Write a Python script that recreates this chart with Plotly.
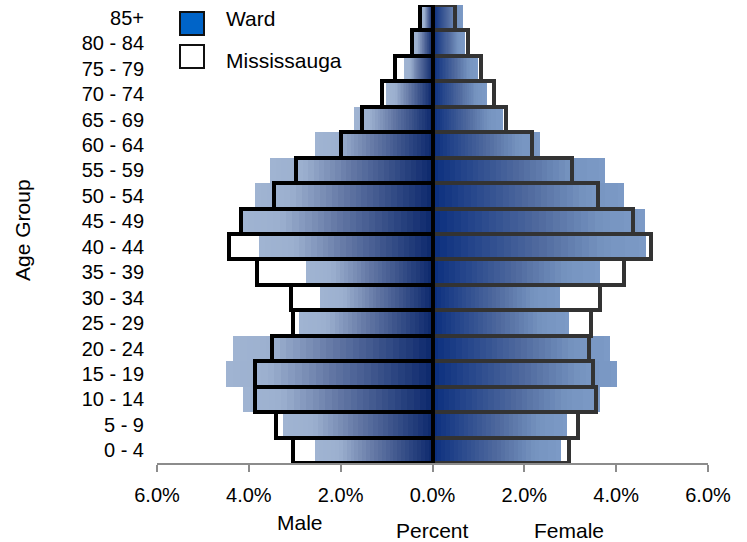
import plotly.graph_objects as go

age_groups = ["0 - 4", "5 - 9", "10 - 14", "15 - 19", "20 - 24", "25 - 29", "30 - 34",
              "35 - 39", "40 - 44", "45 - 49", "50 - 54", "55 - 59", "60 - 64",
              "65 - 69", "70 - 74", "75 - 79", "80 - 84", "85+"]
ward_male = [2.55, 3.25, 4.12, 4.49, 4.34, 2.91, 2.44, 2.75, 3.78, 4.16, 3.87, 3.53,
             2.55, 1.71, 1.02, 0.62, 0.42, 0.22]
miss_male = [3.04, 3.40, 3.86, 3.86, 3.49, 3.04, 3.09, 3.82, 4.44, 4.18, 3.46, 2.98,
             2.00, 1.53, 1.10, 0.81, 0.44, 0.27]
ward_female = [2.79, 2.93, 3.65, 4.02, 3.86, 2.98, 2.77, 3.65, 4.66, 4.63, 4.17, 3.75,
               2.35, 1.54, 1.19, 0.99, 0.70, 0.66]
miss_female = [2.98, 3.17, 3.55, 3.49, 3.41, 3.46, 3.65, 4.17, 4.75, 4.37, 3.60, 3.04,
               2.16, 1.61, 1.35, 1.05, 0.78, 0.50]
tick_vals = [-6, -4, -2, 0, 2, 4, 6]
tick_labels = ["6.0%", "4.0%", "2.0%", "0.0%", "2.0%", "4.0%", "6.0%"]
series_names = ["Ward", "Mississauga"]

FONT = "Liberation Sans, Arial, sans-serif"
N = 30

male_stops = [(0.0, (12, 40, 108)), (0.5, (100, 120, 165)), (0.8, (156, 176, 207)), (1.0, (160, 180, 210))]
female_stops = [(0.0, (10, 46, 126)), (0.5, (80, 106, 158)), (0.8, (118, 148, 192)), (1.0, (124, 154, 198))]


def grad(stops, f):
    for (f0, c0), (f1, c1) in zip(stops[:-1], stops[1:]):
        if f <= f1:
            t = (f - f0) / (f1 - f0) if f1 > f0 else 0
            return "rgb(%d,%d,%d)" % tuple(round(a + (b - a) * t) for a, b in zip(c0, c1))
    return "rgb(%d,%d,%d)" % stops[-1][1]


fig = go.Figure()

for k in range(N):
    s = 1 - k / N
    fig.add_trace(go.Bar(
        y=age_groups, x=[-v * s for v in ward_male], orientation="h",
        marker=dict(color=grad(male_stops, s - 0.5 / N), line=dict(width=0)),
        showlegend=False, hoverinfo="skip"))
    fig.add_trace(go.Bar(
        y=age_groups, x=[v * s for v in ward_female], orientation="h",
        marker=dict(color=grad(female_stops, s - 0.5 / N), line=dict(width=0)),
        showlegend=False, hoverinfo="skip"))

fig.add_trace(go.Bar(
    y=age_groups, x=miss_female, orientation="h", name=series_names[1],
    marker=dict(color="rgba(0,0,0,0)", line=dict(color="#333333", width=4)),
    showlegend=False))
fig.add_trace(go.Bar(
    y=age_groups, x=[-v for v in miss_male], orientation="h", name=series_names[1],
    marker=dict(color="rgba(0,0,0,0)", line=dict(color="#000000", width=4)),
    showlegend=False))

W, H = 747, 542
L, R, T, B = 157, 39, 5, 79
pw, ph = W - L - R, H - T - B


def px(x):
    return (x - L) / pw


def py(y):
    return (H - B - y) / ph


shapes = [
    dict(type="rect", xref="paper", yref="paper", x0=px(180), x1=px(204), y0=py(35), y1=py(12),
         fillcolor="#0064c8", line=dict(color="#111111", width=2)),
    dict(type="rect", xref="paper", yref="paper", x0=px(180), x1=px(204), y0=py(68), y1=py(45),
         fillcolor="#ffffff", line=dict(color="#111111", width=2)),
]

TS = 21
annotations = [
    dict(text=series_names[0], xref="paper", yref="paper", x=px(224), y=py(19),
         xanchor="left", yanchor="middle", showarrow=False, font=dict(size=TS, color="#000")),
    dict(text=series_names[1], xref="paper", yref="paper", x=px(224), y=py(61),
         xanchor="left", yanchor="middle", showarrow=False, font=dict(size=TS, color="#000")),
    dict(text="Male", xref="paper", yref="paper", x=px(300), y=py(522),
         xanchor="center", yanchor="middle", showarrow=False, font=dict(size=TS, color="#000")),
    dict(text="Percent", xref="paper", yref="paper", x=px(432), y=py(530),
         xanchor="center", yanchor="middle", showarrow=False, font=dict(size=TS, color="#000")),
    dict(text="Female", xref="paper", yref="paper", x=px(569), y=py(530),
         xanchor="center", yanchor="middle", showarrow=False, font=dict(size=TS, color="#000")),
    dict(text="Age Group", xref="paper", yref="paper", x=px(22), y=py(230),
         xanchor="center", yanchor="middle", textangle=-90, showarrow=False,
         font=dict(size=TS, color="#000")),
]

fig.update_layout(
    width=W, height=H,
    margin=dict(l=L, r=R, t=T, b=B, pad=0),
    barmode="overlay", bargap=0,
    plot_bgcolor="white", paper_bgcolor="white",
    font=dict(family=FONT, size=20, color="#000"),
    shapes=shapes, annotations=annotations,
    xaxis=dict(range=[-6, 6], tickvals=tick_vals, ticktext=tick_labels,
               showgrid=False, zeroline=False, showline=True, linecolor="#8c8c8c", linewidth=1.5,
               ticks="outside", ticklen=7, tickcolor="#8c8c8c", tickwidth=1.5,
               tickfont=dict(size=20), ticklabelstandoff=6, automargin=False),
    yaxis=dict(type="category", categoryorder="array", categoryarray=age_groups,
               range=[-0.5, 17.5], showgrid=False, zeroline=False, showline=False,
               ticks="", ticklabelstandoff=12, tickfont=dict(size=20), automargin=False),
)

fig.write_html("out.html", config={"displayModeBar": False},
               post_script="document.body.style.margin='0px';")
